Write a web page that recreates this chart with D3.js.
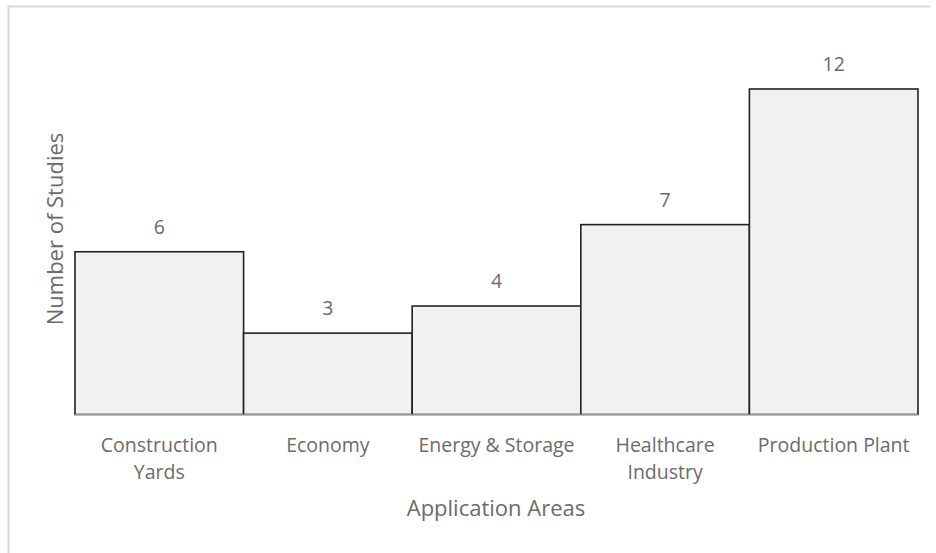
<!DOCTYPE html>
<html><head><meta charset="utf-8">
<script src="https://cdn.jsdelivr.net/npm/d3@7"></script>
<style>
html,body{margin:0;padding:0;background:#fff;}
svg text{font-family:"Open Sans",sans-serif;fill:#6b6b6b;}
</style></head>
<body>
<svg id="chart" width="936" height="553"></svg>
<script>
const categories = [["Construction","Yards"],["Economy"],["Energy & Storage"],["Healthcare","Industry"],["Production Plant"]];
const values = [6,3,4,7,12];
const xTitle = "Application Areas";
const yTitle = "Number of Studies";

const svg = d3.select("#chart");
const W = 936, H = 553;
const m = {left:75, right:18, top:0, bottom:138.5};
const plotBottom = H - m.bottom;
const fs = 19.5, tfs = 22;

// outer frame (top & left visible)
svg.append("path").attr("d", `M8.5,${H+2} V6.5 H930`)
  .attr("fill","none").attr("stroke","#d9d9d9").attr("stroke-width",2);

const keys = categories.map(c=>c.join(" "));
const x = d3.scaleBand().domain(keys).range([m.left, W-m.right]).padding(0);
const y = d3.scaleLinear().domain([0,12]).range([plotBottom, 89]);

svg.selectAll("rect.bar").data(values).enter().append("rect")
  .attr("class","bar")
  .attr("x",(d,i)=>x(keys[i]))
  .attr("y",d=>y(d))
  .attr("width",x.bandwidth())
  .attr("height",d=>plotBottom-y(d))
  .attr("fill","#f0f1f3").attr("stroke","#222").attr("stroke-width",1.6);

// baseline axis
svg.append("line").attr("x1",m.left).attr("x2",W-m.right)
  .attr("y1",plotBottom+0.5).attr("y2",plotBottom+0.5)
  .attr("stroke","#bfbfbf").attr("stroke-width",1.5);

// value labels
svg.selectAll("text.val").data(values).enter().append("text")
  .attr("class","val")
  .attr("x",(d,i)=>x(keys[i])+x.bandwidth()/2)
  .attr("y",d=>y(d)-18)
  .attr("text-anchor","middle").attr("font-size",fs)
  .text(d=>d);

// category labels
categories.forEach((c,i)=>{
  const cx = x(keys[i])+x.bandwidth()/2;
  const t = svg.append("text").attr("text-anchor","middle").attr("font-size",fs)
    .attr("x", cx).attr("y", 452);
  c.forEach((line,j)=>{
    t.append("tspan").attr("x", cx).attr("dy", j===0?0:27).text(line);
  });
});

svg.append("text").attr("x",496).attr("y",516)
  .attr("text-anchor","middle").attr("font-size",tfs).text(xTitle);

svg.append("text").attr("transform","translate(63,229) rotate(-90)")
  .attr("text-anchor","middle").attr("font-size",tfs).text(yTitle);
</script>
</body></html>
